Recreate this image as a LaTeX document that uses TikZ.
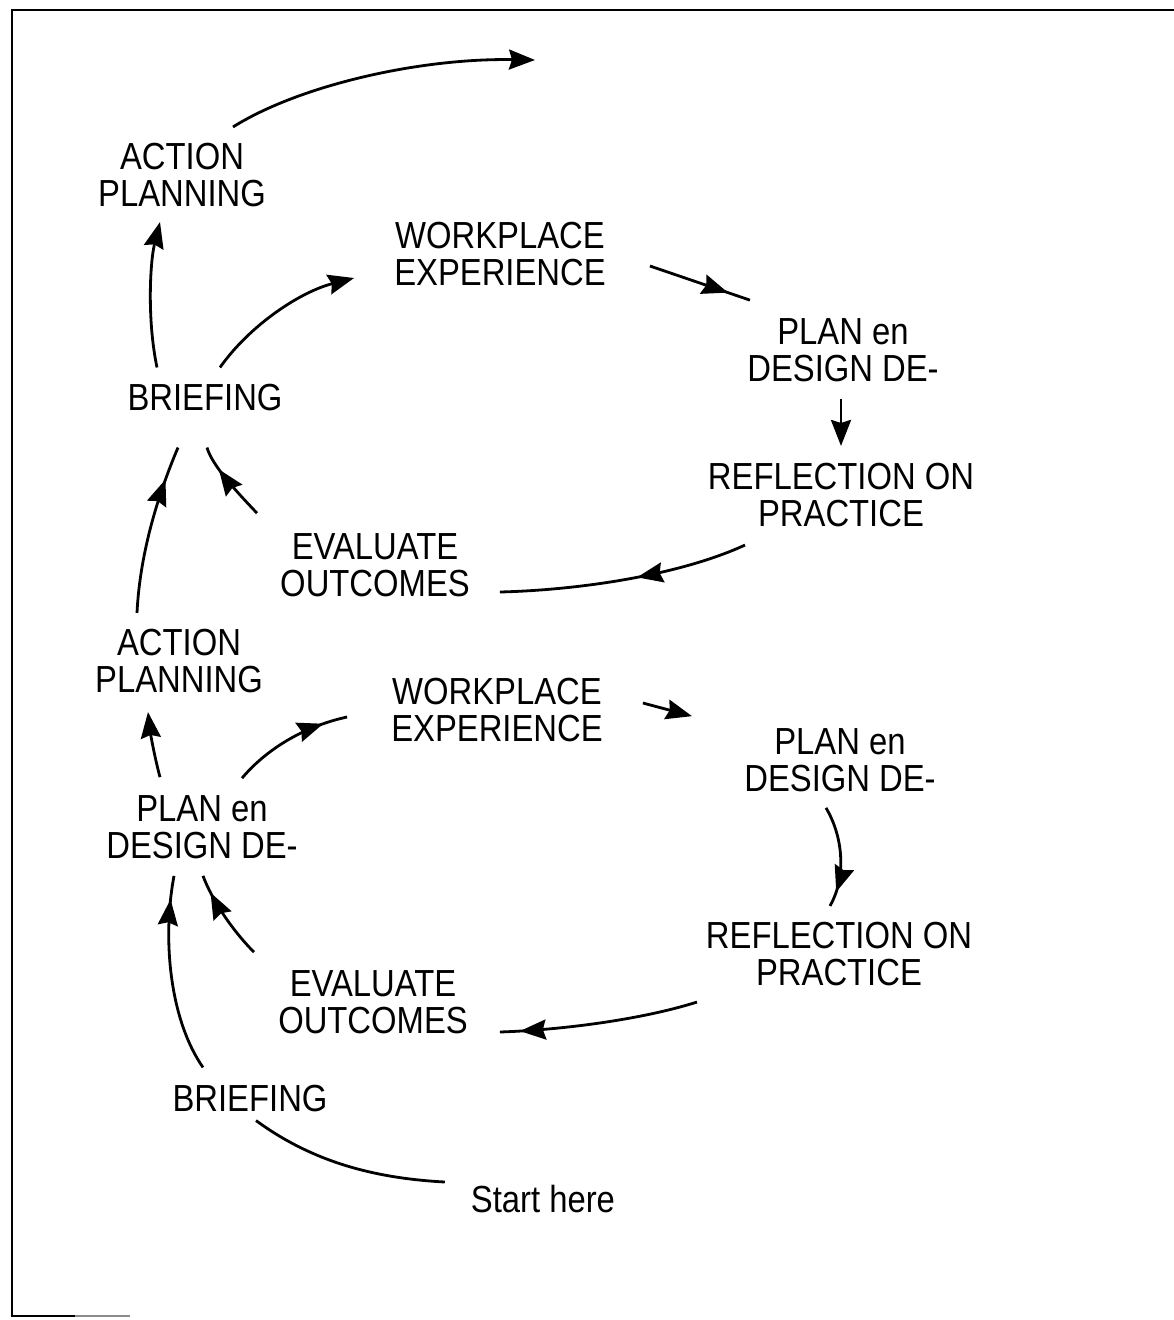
\documentclass[tikz,border=0pt]{standalone}
\usepackage{fontspec}
\newfontfamily\labfont{Liberation Sans}[FakeStretch=0.87]
\usetikzlibrary{arrows.meta,decorations.markings}

\tikzset{
  lbl/.style={font=\labfont\fontsize{37.7}{37}\selectfont, align=center, inner sep=0pt},
  head/.tip={Stealth[length=26pt,width=20pt,inset=3pt]},
  flow/.style={line width=2.8pt, -head},
  midflow/.style={line width=2.8pt, postaction={decorate},
    decoration={markings, mark=at position #1 with {\arrow{head}}}},
  plain/.style={line width=2.8pt},
  frame/.style={line width=2.8pt}
}

\begin{document}
\begin{tikzpicture}[x=1pt,y=-1pt]
\useasboundingbox (0,0) rectangle (1174,1320);

% page frame
\draw[frame] (1174,10) -- (12,10) -- (12,1316) -- (75,1316);
\draw[line width=1.5pt, black!45] (75,1316) -- (130,1316);

% upper cycle
\node[lbl] (ap1) at (182,175) {ACTION\\PLANNING};
\node[lbl] (wp1) at (500,254) {WORKPLACE\\EXPERIENCE};
\node[lbl] (pd1) at (843,350) {PLAN en\\DESIGN DE-};
\node[lbl] (rf1) at (841,495) {REFLECTION ON\\PRACTICE};
\node[lbl] (ev1) at (375,565) {EVALUATE\\OUTCOMES};
\node[lbl] (br1) at (205,398) {BRIEFING};

% lower cycle
\node[lbl] (ap2) at (179,661) {ACTION\\PLANNING};
\node[lbl] (wp2) at (497,710) {WORKPLACE\\EXPERIENCE};
\node[lbl] (pd2) at (202,827) {PLAN en\\DESIGN DE-};
\node[lbl] (pd3) at (840,760) {PLAN en\\DESIGN DE-};
\node[lbl] (rf2) at (839,954) {REFLECTION ON\\PRACTICE};
\node[lbl] (ev2) at (373,1002) {EVALUATE\\OUTCOMES};
\node[lbl] (br2) at (250,1099) {BRIEFING};
\node[lbl] (st) at (543,1199) {Start here};

\coordinate (onward) at (535,60);

% upper cycle connectors
\draw[flow] ([shift={(51,-16)}]ap1.north) .. controls (300,85) and (420,58) .. (onward);
\draw[flow] ([shift={(-48,-17)}]br1.north) .. controls (147,320) and (150,262) .. ([shift={(-22,15)}]ap1.south);
\draw[flow] ([shift={(15,-17)}]br1.north) .. controls (250,325) and (300,292) .. ([shift={(-40,24)}]wp1.west);
\draw[midflow=0.78] ([shift={(44,12)}]wp1.east) -- ([shift={(-93,-18)}]pd1.north);
\draw[flow] ([shift={(-2,17)}]pd1.south) -- ([shift={(0,-17)}]rf1.north);
\draw[midflow=0.45] ([shift={(-96,18)}]rf1.south) .. controls (680,575) and (580,590) .. ([shift={(30,27)}]ev1.east);
\draw[midflow=0.7] ([shift={(-118,-20)}]ev1.north) .. controls (235,490) and (212,465) .. ([shift={(2,36)}]br1.south);
\draw[midflow=0.8] ([shift={(-42,-16)}]ap2.north) .. controls (140,550) and (160,490) .. ([shift={(-27,36)}]br1.south);

% lower cycle connectors
\draw[flow] ([shift={(-42,-18)}]pd2.north) .. controls (154,755) and (150,730) .. ([shift={(-31,19)}]ap2.south);
\draw[midflow=0.8] ([shift={(40,-17)}]pd2.north) .. controls (270,745) and (310,725) .. ([shift={(-44,7)}]wp2.west);
\draw[flow] ([shift={(40,-7)}]wp2.east) -- ([shift={(-148,-12)}]pd3.north);
\draw[midflow=0.85] ([shift={(-14,16)}]pd3.south) .. controls (845,840) and (845,880) .. ([shift={(-9,-16)}]rf2.north);
\draw[midflow=0.9] ([shift={(-142,16)}]rf2.south) .. controls (640,1020) and (560,1030) .. ([shift={(32,30)}]ev2.east);
\draw[midflow=0.8] ([shift={(-119,-18)}]ev2.north) .. controls (232,930) and (212,900) .. ([shift={(1,17)}]pd2.south);
\draw[midflow=0.88] ([shift={(-47,-18)}]br2.north) .. controls (170,1020) and (162,940) .. ([shift={(-28,17)}]pd2.south);
\draw[plain] ([shift={(-26,-17)}]st.west) .. controls (370,1178) and (310,1160) .. ([shift={(6,8)}]br2.south);

\end{tikzpicture}
\end{document}
